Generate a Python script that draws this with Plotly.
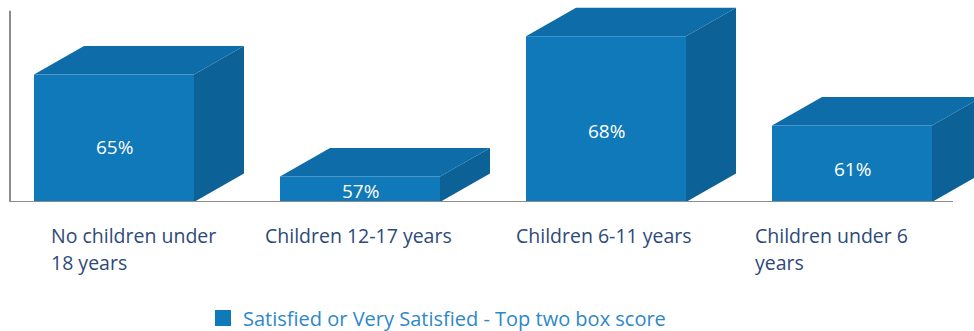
import plotly.graph_objects as go

# ---- data ----
categories = ["No children under\n18 years", "Children 12-17 years", "Children 6-11 years", "Children under 6\nyears"]
values = [65, 57, 68, 61]
series_name = "Satisfied or Very Satisfied - Top two box score"

# ---- style ----
FRONT = "#1079BA"
TOP = "#0E6DA8"
SIDE = "#0C6296"
AXIS = "#8C8C8C"
LABEL_COLOR = "#2D4A78"
LEGEND_COLOR = "#2E88C8"
FONT = "Open Sans, Roboto, sans-serif"

W, H = 974, 331
PX_PER_CAT = 246.0
PX_PER_UNIT = 12.75
Y_MIN = 55
Y_MAX_AXIS = 70
PLOT_TOP, PLOT_BOTTOM = 0, 202
HALF_W = 80 / PX_PER_CAT
DX = 50 / PX_PER_CAT
DY = 28.5 / PX_PER_UNIT
x0 = -114 / PX_PER_CAT
x1 = x0 + W / PX_PER_CAT
y_top = Y_MIN + (PLOT_BOTTOM - PLOT_TOP) / PX_PER_UNIT

front_x, front_y, top_x, top_y, side_x, side_y = [], [], [], [], [], []
for i, v in enumerate(values):
    l, r = i - HALF_W, i + HALF_W
    front_x += [l, r, r, l, l, None]
    front_y += [Y_MIN, Y_MIN, v, v, Y_MIN, None]
    top_x += [l, r, r + DX, l + DX, l, None]
    top_y += [v, v, v + DY, v + DY, v, None]
    side_x += [r, r + DX, r + DX, r, r, None]
    side_y += [Y_MIN, Y_MIN + DY, v + DY, v, Y_MIN, None]

fig = go.Figure()
for xs, ys, c in [(side_x, side_y, SIDE), (top_x, top_y, TOP), (front_x, front_y, FRONT)]:
    fig.add_trace(go.Scatter(x=xs, y=ys, fill="toself", fillcolor=c, mode="lines",
                             line=dict(width=0, color=c), hoverinfo="skip", showlegend=False))

# legend entry
fig.add_trace(go.Scatter(x=[None], y=[None], mode="markers", name=series_name,
                         marker=dict(symbol="square", size=16, color=FRONT)))

# axis lines
ax_left = x0 + 10 / PX_PER_CAT
ax_right = (953 - 114) / PX_PER_CAT
fig.add_shape(type="line", x0=ax_left, x1=ax_left, y0=Y_MIN, y1=Y_MAX_AXIS,
              line=dict(color=AXIS, width=2))
fig.add_shape(type="line", x0=ax_left, x1=ax_right, y0=Y_MIN, y1=Y_MIN,
              line=dict(color=AXIS, width=2))

# value labels
for i, v in enumerate(values):
    fig.add_annotation(x=i, y=Y_MIN + (v - Y_MIN) * 0.43, text=f"{v}%", showarrow=False,
                       font=dict(family=FONT, size=19, color="white"))

# category labels
shifts = [-65, 0, 0, -99]
for i, cat in enumerate(categories):
    lines = cat.split("\n")
    multi = len(lines) > 1
    for k, ln in enumerate(lines):
        fig.add_annotation(x=i, y=Y_MIN, text=ln, showarrow=False,
                           xanchor="left" if multi else "center",
                           xshift=shifts[i] if multi else -2,
                           yanchor="middle", yshift=-(33 + 27 * k),
                           font=dict(family=FONT, size=19.5, color=LABEL_COLOR))

fig.update_layout(
    width=W, height=H,
    margin=dict(l=0, r=0, t=PLOT_TOP, b=H - PLOT_BOTTOM, autoexpand=False),
    paper_bgcolor="white", plot_bgcolor="white",
    xaxis=dict(range=[x0, x1], visible=False, fixedrange=True),
    yaxis=dict(range=[Y_MIN, y_top], visible=False, fixedrange=True),
    showlegend=True,
    legend=dict(orientation="h", x=437 / W, xanchor="center",
                y=(PLOT_BOTTOM - 318) / (PLOT_BOTTOM - PLOT_TOP), yanchor="middle",
                font=dict(family=FONT, size=20, color=LEGEND_COLOR),
                itemsizing="trace", bgcolor="rgba(0,0,0,0)"),
    font=dict(family=FONT),
)

fig.write_html("out.html")
